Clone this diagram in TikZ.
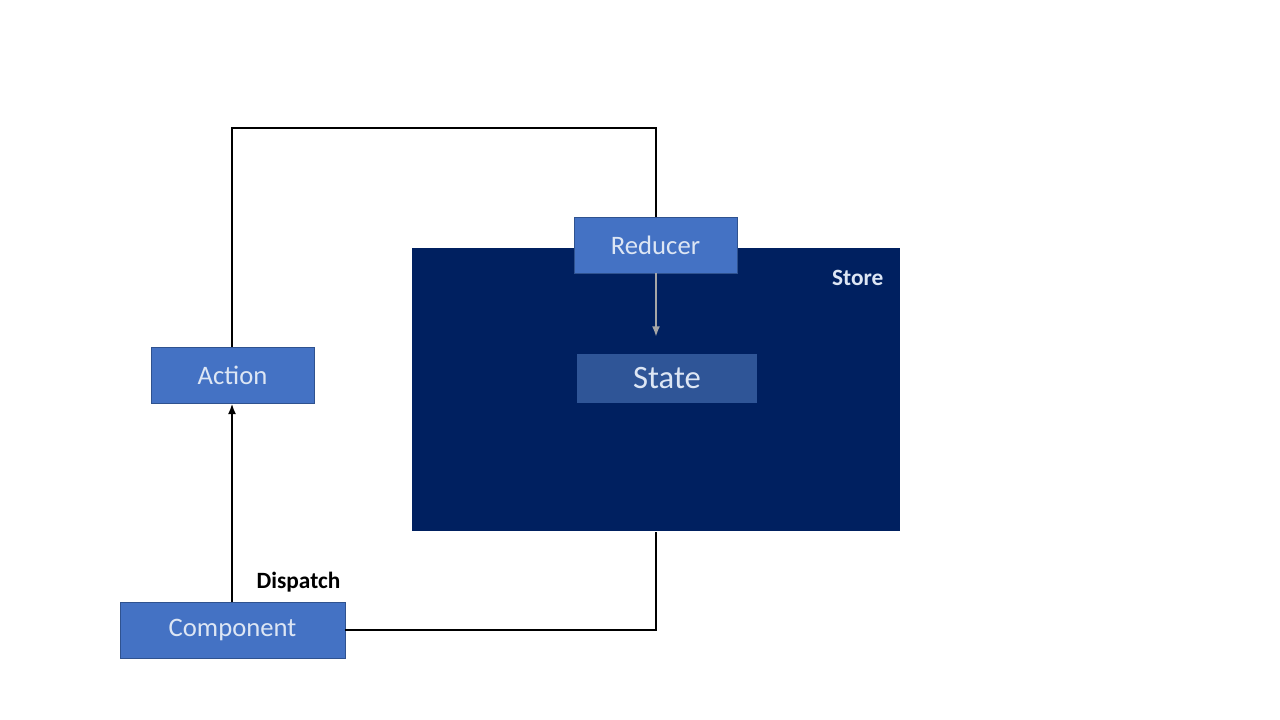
\documentclass[tikz,border=0pt]{standalone}
\usepackage{fontspec}
\setmainfont{Carlito}
\usetikzlibrary{arrows.meta}
\definecolor{storeblue}{HTML}{002060}
\definecolor{boxblue}{HTML}{4472C4}
\definecolor{boxedge}{HTML}{2F528F}
\definecolor{stateblue}{HTML}{2F5597}
\definecolor{labeltext}{HTML}{DDE6F4}
\definecolor{grayarrow}{HTML}{A6A6A6}
\tikzset{
  blockbox/.style={fill=boxblue, draw=boxedge, line width=0.6pt, text=labeltext, inner sep=0pt, font=\fontsize{20}{24}\selectfont},
  flow/.style={line width=2.2pt, draw=black},
}
\begin{document}
\begin{tikzpicture}[x=0.75pt,y=-0.75pt]
\useasboundingbox (0,0) rectangle (1280,720);
\fill[white] (0,0) rectangle (1280,720);
% Store
\node[fill=storeblue, inner sep=0pt, minimum width=488*0.75pt, minimum height=283*0.75pt, anchor=north west] (store) at (412,248) {};
\node[anchor=east, text=labeltext, font=\fontsize{17.5}{20}\selectfont\bfseries] (storelbl) at (888,278) {Store};
% State
\node[fill=stateblue, text=labeltext, inner sep=0pt, minimum width=180*0.75pt, minimum height=49*0.75pt, font=\fontsize{24.5}{28}\selectfont] (state) at (667,378.5) {State};
% Reducer
\node[blockbox, minimum width=163*0.75pt, minimum height=56*0.75pt] (reducer) at (655.5,245) {Reducer};
% Action
\node[blockbox, minimum width=163*0.75pt, minimum height=56*0.75pt] (action) at (232.5,375) {Action};
% Component
\node[blockbox, minimum width=225*0.75pt, minimum height=56*0.75pt] (component) at (232.5,630) {Component};
% Dispatch label
\node[font=\fontsize{17.5}{20}\selectfont\bfseries] (dispatch) at (298.5,582) {Dispatch};
% coordinates
\coordinate (tl) at (232,128);
\coordinate (tr) at (656,128);
\coordinate (br) at (656,630);
\coordinate (stateTip) at (656,337);
% connectors
\draw[flow] (action.north -| tl) -- (tl) -- (tr) -- (tr |- reducer.north);
\draw[flow, -{Latex[length=8pt,width=6pt]}] (component.north -| tl) -- (action.south -| tl);
\draw[flow] (component.east) -- (br) -- (br |- store.south);
\draw[line width=1.7pt, draw=grayarrow, -{Latex[length=8pt,width=6pt]}] (reducer.south -| br) -- (stateTip);
\end{tikzpicture}
\end{document}
